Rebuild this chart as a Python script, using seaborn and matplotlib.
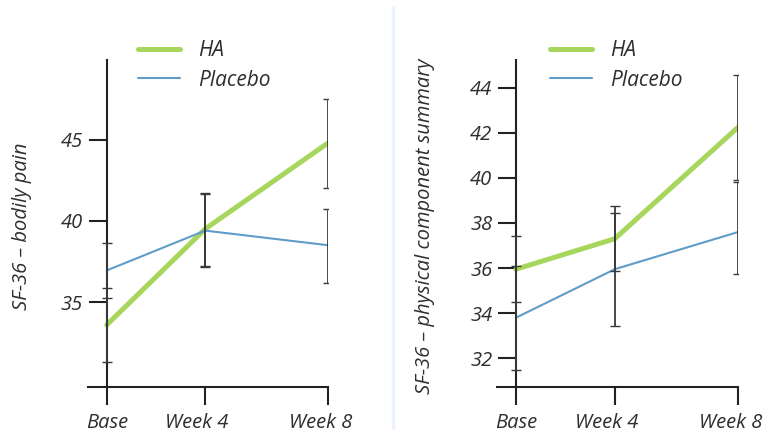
import numpy as np
import pandas as pd
import matplotlib
matplotlib.use("Agg")
import matplotlib.pyplot as plt
import matplotlib.transforms as mtransforms
import seaborn as sns
from matplotlib.lines import Line2D

# data
timepoints = ["Base", "Week 4", "Week 8"]
week_pos = [0, 4, 9]

pain_ha = [33.6, 39.5, 44.8]
pain_ha_lo = [31.3, 37.2, 42.0]
pain_ha_hi = [35.9, 41.7, 47.5]
pain_pl = [36.95, 39.4, 38.5]
pain_pl_lo = [35.25, 37.15, 36.2]
pain_pl_hi = [38.65, 41.65, 40.7]

pcs_ha = [35.95, 37.3, 42.25]
pcs_ha_lo = [34.5, 35.85, 39.9]
pcs_ha_hi = [37.4, 38.75, 44.55]
pcs_pl = [33.8, 35.95, 37.6]
pcs_pl_lo = [31.5, 33.45, 35.75]
pcs_pl_hi = [36.1, 38.45, 39.8]

GREEN = "#a6d65c"
BLUE = "#5f9dc8"
BAR = "#3a3a3a"

sns.set_style("white")
plt.rcParams['font.family'] = ['Open Sans', 'DejaVu Sans']
plt.rcParams['font.style'] = 'italic'

fig = plt.figure(figsize=(7.69, 4.34), dpi=100)

def panel(rect, ha, ha_lo, ha_hi, pl, pl_lo, pl_hi, ylim, yticks, ylabel, xlim_left, leg_x, label_x):
    ax = fig.add_axes(rect)
    df = pd.DataFrame({
        "x": week_pos * 2,
        "y": ha + pl,
        "group": ["HA"] * 3 + ["Placebo"] * 3,
    })
    sns.lineplot(data=df, x="x", y="y", hue="group", size="group",
                 palette={"HA": GREEN, "Placebo": BLUE},
                 sizes={"HA": 3.6, "Placebo": 1.5}, ax=ax, legend=False, zorder=2)
    for mid, lo, hi in [(ha, ha_lo, ha_hi), (pl, pl_lo, pl_hi)]:
        mid = np.array(mid)
        err = [mid - np.array(lo), np.array(hi) - mid]
        ax.errorbar(week_pos, mid, yerr=err, fmt="none", ecolor=BAR,
                    elinewidth=1.3, capsize=3.5, capthick=1.0, zorder=3)

    ax.set_xlim(xlim_left, week_pos[-1])
    ax.set_ylim(*ylim)
    ax.spines["left"].set_position(("data", 0))
    ax.spines["top"].set_visible(False)
    ax.spines["right"].set_visible(False)
    for s in ["left", "bottom"]:
        ax.spines[s].set_color("#222222")
        ax.spines[s].set_linewidth(1.5)
    ax.set_xticks(week_pos)
    ax.set_xticklabels(timepoints)
    ax.set_yticks(yticks)
    ax.tick_params(axis="both", direction="out", length=13, width=1.5,
                   color="#222222", labelsize=14.5, labelcolor="#2e2e2e",
                   bottom=True, left=True)
    ax.tick_params(axis="x", pad=6)
    ax.tick_params(axis="y", pad=4)
    # the "Week" labels sit a little left of their ticks in the original
    shift = mtransforms.ScaledTranslation(-8 / 100, 0, fig.dpi_scale_trans)
    for lab in ax.get_xticklabels()[1:]:
        lab.set_transform(lab.get_transform() + shift)
    ax.set_xlabel("")
    ax.set_ylabel(ylabel, fontsize=14.5, color="#2e2e2e")
    ax.yaxis.set_label_coords(label_x, 0.49)

    handles = [Line2D([], [], color=GREEN, lw=3.6), Line2D([], [], color=BLUE, lw=1.5)]
    ax.legend(handles, ["HA", "Placebo"], loc="upper left", bbox_to_anchor=(leg_x, 1.06),
              frameon=False, fontsize=15, handlelength=2.0, handletextpad=0.9,
              labelspacing=0.4, borderpad=0, borderaxespad=0, labelcolor="#2e2e2e")
    return ax

panel([0.1148, 0.109, 0.312, 0.753], pain_ha, pain_ha_lo, pain_ha_hi,
      pain_pl, pain_pl_lo, pain_pl_hi, (29.8, 49.9), [35, 40, 45],
      "SF-36 \u2013 bodily pain", -0.75, 0.207, -0.235)

panel([0.646, 0.109, 0.314, 0.753], pcs_ha, pcs_ha_lo, pcs_ha_hi,
      pcs_pl, pcs_pl_lo, pcs_pl_hi, (30.74, 45.23), [32, 34, 36, 38, 40, 42, 44],
      "SF-36 \u2013 physical component summary", -0.78, 0.22, -0.255)

# faint divider between the two panels
fig.add_artist(Line2D([392.7 / 769, 392.7 / 769], [1 - 7 / 434, 1 - 428 / 434],
                      transform=fig.transFigure, color="#eaf3fb", lw=2.5))

fig.savefig("out.png", dpi=100)
